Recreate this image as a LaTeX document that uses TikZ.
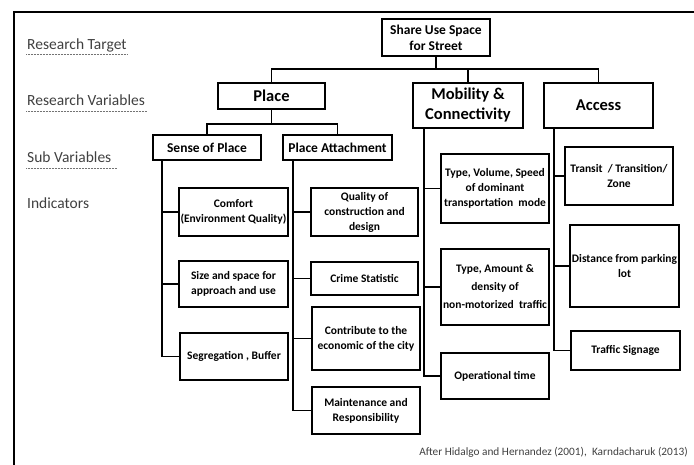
\documentclass[tikz,border=0pt]{standalone}
\usepackage{fontspec}
\setmainfont{Carlito}
\begin{document}
\begin{tikzpicture}[x=1pt,y=-1pt,
  box/.style={draw, line width=1.8pt, inner sep=1pt, align=center, font=\bfseries\fontsize{11.5}{15}\selectfont},
  varbox/.style={box, font=\bfseries\fontsize{16.5}{20}\selectfont},
  subbox/.style={box, font=\bfseries\fontsize{13.5}{16}\selectfont},
  level/.style={anchor=west, inner sep=1pt, text=black!75, font=\fontsize{15.5}{18}\selectfont},
  rule/.style={densely dotted, black!55, line width=0.5pt},
  link/.style={line width=1.8pt}]
\useasboundingbox (0,0) rectangle (694,464);
\draw[line width=1.8pt] (14,470) |- (700,12);
% left column
\node [level] (lt) at (26,45) {Research Target};
\node [level] (lv) at (26,100) {Research Variables};
\node [level] (ls) at (26,157) {Sub Variables};
\node [level] (li) at (26,203) {Indicators};
\draw [rule] ([yshift=-1pt]lt.south west) -- ([yshift=-1pt]lt.south east);
\draw [rule] ([yshift=-5pt]lv.south west) -- ([yshift=-5pt]lv.south east);
\draw [rule] ([yshift=-5pt]ls.south west) -- ([yshift=-5pt,xshift=4pt]ls.south east);
% target and variables
\node [box, font=\bfseries\fontsize{13.5}{16}\selectfont, minimum width=108, minimum height=37] (target) at (436,37.5) {Share Use Space\\for Street};
\node [varbox, minimum width=107, minimum height=26] (place) at (271.5,96) {Place};
\node [varbox, minimum width=110, minimum height=45] (mob) at (468,105.5) {Mobility \&\\Connectivity};
\node [varbox, minimum width=109, minimum height=45] (access) at (598.5,105.5) {Access};
\node [subbox, minimum width=108, minimum height=25] (sense) at (207,147.5) {Sense of Place};
\node [subbox, minimum width=109, minimum height=25] (attach) at (337.5,147.5) {Place Attachment};
% indicators
\node [box, minimum width=109, minimum height=48] (comfort) at (233.5,212) {Comfort\\(Environment Quality)};
\node [box, minimum width=109, minimum height=46] (size) at (233.5,284) {Size and space for\\approach and use};
\node [box, minimum width=108, minimum height=47] (seg) at (234,356.5) {Segregation , Buffer};
\node [box, minimum width=107, minimum height=48] (quality) at (364.5,212) {Quality of\\construction and\\design};
\node [box, minimum width=107, minimum height=33] (crime) at (364.5,278.5) {Crime Statistic};
\node [box, minimum width=108, minimum height=63] (contrib) at (366,338.5) {Contribute to the\\economic of the city};
\node [box, minimum width=108, minimum height=47] (maint) at (366,410.5) {Maintenance and\\Responsibility};
\node [box, minimum width=108, minimum height=69] (type1) at (495,188.5) {Type, Volume, Speed\\of dominant\\transportation\ \ mode};
\node [box, minimum width=108, minimum height=76, font=\bfseries\fontsize{11.5}{18}\selectfont] (type2) at (495,287) {Type, Amount \&\\density of\\non-motorized\ \ traffic};
\node [box, minimum width=108, minimum height=46] (optime) at (495,376) {Operational time};
\node [box, minimum width=108, minimum height=58] (transit) at (619,176) {Transit\ \ / Transition/\\Zone};
\node [box, minimum width=109, minimum height=82] (dist) at (624.5,266) {Distance from parking\\lot};
\node [box, minimum width=109, minimum height=39] (sign) at (625.5,350.5) {Traffic Signage};
\node [anchor=east, inner sep=1pt, text=black!75, font=\fontsize{11.3}{13}\selectfont] (src) at (689,452) {After Hidalgo and Hernandez (2001),\ \ Karndacharuk (2013)};
% connectors
\coordinate (bus) at (436,69);
\coordinate (pbus) at (271.5,124);
\draw [link] (target) -- (bus);
\draw [link] (place.north) |- (bus) -| (access.north);
\draw [link] (mob.north) -- (mob.north |- bus);
\draw [link] (place) -- (pbus);
\draw [link] (sense.north) |- (pbus) -| (attach.north);
\coordinate (st) at ([xshift=10pt]sense.south west);
\coordinate (at) at ([xshift=11pt]attach.south west);
\coordinate (mt) at ([xshift=12pt]mob.south west);
\coordinate (xt) at ([xshift=11pt]access.south west);
\draw [link] (st) |- (seg.west);
\draw [link] (at) |- (maint.west);
\draw [link] (mt) |- (optime.west);
\draw [link] (xt) |- (sign.west);
\foreach \n/\t in {comfort/st, size/st, quality/at, crime/at, contrib/at, type1/mt, type2/mt, transit/xt, dist/xt}
  \draw [link] (\n.west) -- (\n.west -| \t);
\end{tikzpicture}
\end{document}
